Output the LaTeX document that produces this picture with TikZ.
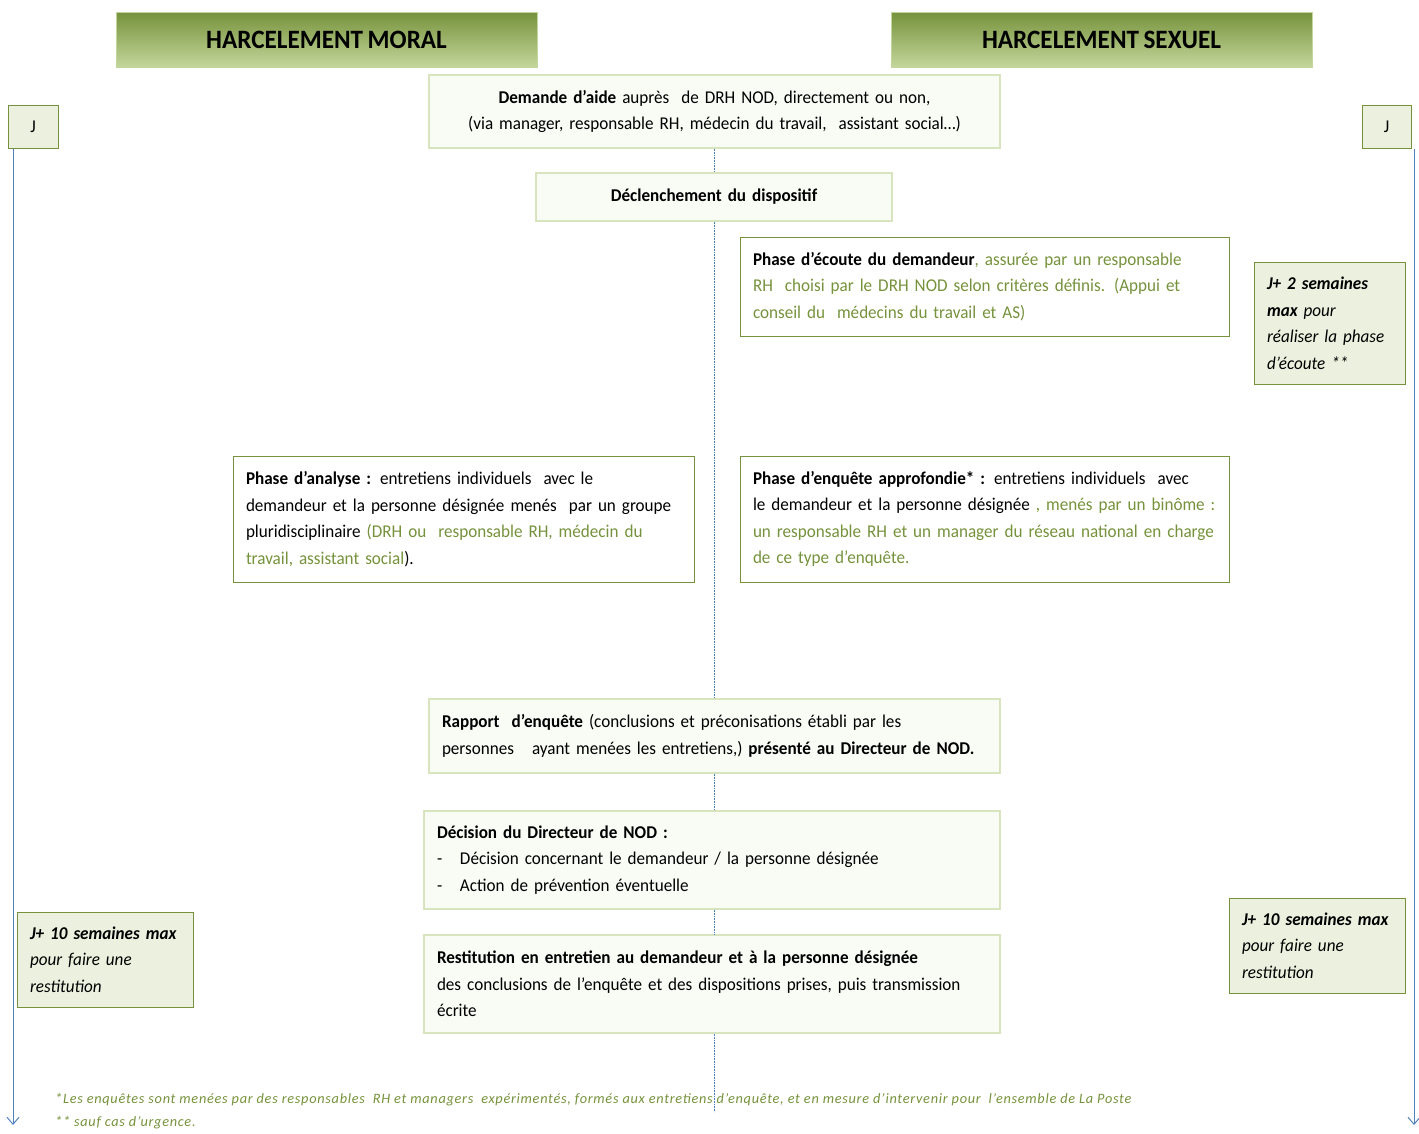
\documentclass[tikz,border=0pt]{standalone}
\usepackage{fontspec}
\setmainfont{Carlito}[FakeStretch=0.95, WordSpace=0.8]
\newfontfamily\notefont{Carlito}[LetterSpace=5]
\usetikzlibrary{arrows.meta}

\definecolor{oliveD}{HTML}{76923C}
\definecolor{oliveL}{HTML}{C3D69B}
\definecolor{paleG}{HTML}{D7E4BD}
\definecolor{fillG}{HTML}{EBF1DE}
\definecolor{fillP}{HTML}{F9FBF5}
\definecolor{lineB}{HTML}{4F81BD}
\definecolor{txtG}{HTML}{76923C}

\begin{document}
\begin{tikzpicture}[x=1pt, y=-1pt, font=\fontsize{18}{26.5}\selectfont,
  head/.style={rectangle, draw=oliveL, line width=0.8pt, minimum width=421pt, minimum height=55pt, font=\fontsize{26.5}{28}\selectfont\bfseries},
  soft/.style={rectangle, draw=paleG, fill=fillP, line width=1.2pt, inner xsep=13pt, inner ysep=0pt},
  phase/.style={rectangle, draw=oliveD, fill=white, line width=1pt, inner xsep=13pt, inner ysep=0pt, align=left},
  delay/.style={rectangle, draw=oliveD, fill=fillG, line width=1pt, inner xsep=13pt, inner ysep=0pt, align=left, font=\fontsize{18}{26.5}\selectfont\itshape},
  jbox/.style={rectangle, draw=oliveD, fill=fillG, line width=1pt, minimum height=43pt},
  link/.style={lineB, line width=0.6pt, densely dotted},
  timeline/.style={-{Straight Barb[length=7pt,width=12pt]}, lineB, line width=1pt}]
  \useasboundingbox (0,0) rectangle (1419,1133);
  % titres
  \node[head, top color=oliveD, bottom color=oliveL] (hmoral) at (326.5,39.5) {HARCELEMENT MORAL};
  \node[head, top color=oliveD, middle color=oliveD!88!oliveL, bottom color=oliveL] (hsexuel) at (1101.5,39.5) {HARCELEMENT SEXUEL};
  \node[jbox, minimum width=50pt] (jleft) at (33,126.5) {J};
  \node[jbox, minimum width=49pt] (jright) at (1386.5,126.5) {J};
  % etapes
  \node[soft, align=center, text width=545pt, minimum height=73pt] (demande) at (714.5,111.5) {\textbf{Demande d’aide} auprès\ \ de DRH NOD, directement ou non,\\(via manager, responsable RH, médecin du travail,\ \ assistant social…)};
  \node[soft, align=center, text width=330pt, minimum height=48pt] (declench) at (714,197) {\textbf{Déclenchement du dispositif}};
  \node[phase, text width=463pt, minimum height=99pt] (ecoute) at (984.5,286.5) {\textbf{Phase d’écoute du demandeur}\textcolor{txtG}{, assurée par un responsable}\\\textcolor{txtG}{RH\ \ choisi par le DRH NOD selon critères définis. (Appui et}\\\textcolor{txtG}{conseil du\ \ médecins du travail et AS)}};
  \node[phase, text width=435pt, minimum height=126pt] (analyse) at (463.5,519) {\textbf{Phase d’analyse :} entretiens individuels\ \ avec le\\demandeur et la personne désignée menés\ \ par un groupe\\pluridisciplinaire \textcolor{txtG}{(DRH ou\ \ responsable RH, médecin du}\\\textcolor{txtG}{travail, assistant social}).};
  \node[phase, text width=463pt, minimum height=126pt] (enquete) at (984.5,519) {\textbf{Phase d’enquête approfondie* :} entretiens individuels\ \ avec\\le demandeur et la personne désignée \textcolor{txtG}{, menés par un binôme :}\\\textcolor{txtG}{un responsable RH et un manager du réseau national en charge}\\\textcolor{txtG}{de ce type d’enquête.}};
  \node[soft, align=left, text width=545pt, minimum height=74pt] (rapport) at (714.5,736) {\textbf{Rapport\ \ d’enquête} (conclusions et préconisations établi par les\\personnes\ \ \ ayant menées les entretiens,) \textbf{présenté au Directeur de NOD.}};
  \node[soft, align=left, text width=550pt, minimum height=98pt] (decision) at (712,860) {\textbf{Décision du Directeur de NOD :}\\\makebox[23pt][l]{-}Décision concernant le demandeur / la personne désignée\\\makebox[23pt][l]{-}Action de prévention éventuelle};
  \node[soft, align=left, text width=550pt, minimum height=98pt] (restit) at (712,984) {\textbf{Restitution en entretien au demandeur et à la personne désignée}\\des conclusions de l’enquête et des dispositions prises, puis transmission\\écrite};
  % delais
  \node[delay, text width=125pt, minimum height=122pt] (delai2) at (1329.5,323) {\textbf{J+ 2 semaines}\\\textbf{max} pour\\réaliser la phase\\d’écoute **};
  \node[delay, text width=150pt, minimum height=95pt] (delai10g) at (105,959.5) {\textbf{J+ 10 semaines max}\\pour faire une\\restitution};
  \node[delay, text width=150pt, minimum height=95pt] (delai10d) at (1317,945.5) {\textbf{J+ 10 semaines max}\\pour faire une\\restitution};
  % fleches
  \coordinate (endmid) at (714,1112);
  \coordinate (endleft) at (13,1125);
  \coordinate (endright) at (1414,1125);
  \draw[link] (demande.south -| endmid) -- (declench.north -| endmid);
  \draw[link] (declench.south -| endmid) -- (rapport.north -| endmid);
  \draw[link] (rapport.south -| endmid) -- (decision.north -| endmid);
  \draw[link] (decision.south -| endmid) -- (restit.north -| endmid);
  \draw[link] (restit.south -| endmid) -- (endmid);
  \draw[timeline] (jleft.south -| endleft) -- (endleft);
  \draw[timeline] (jright.south -| endright) -- (endright);
  % notes
  \node[anchor=north west, inner sep=0pt, align=left, text=txtG, font=\notefont\fontsize{14.3}{23}\selectfont\itshape] (note) at (55,1093) {*Les enquêtes sont menées par des responsables\ \ RH et managers\ \ expérimentés, formés aux entretiens d’enquête, et en mesure d’intervenir pour\ \ l’ensemble de La Poste\\** sauf cas d’urgence.};
\end{tikzpicture}
\end{document}
